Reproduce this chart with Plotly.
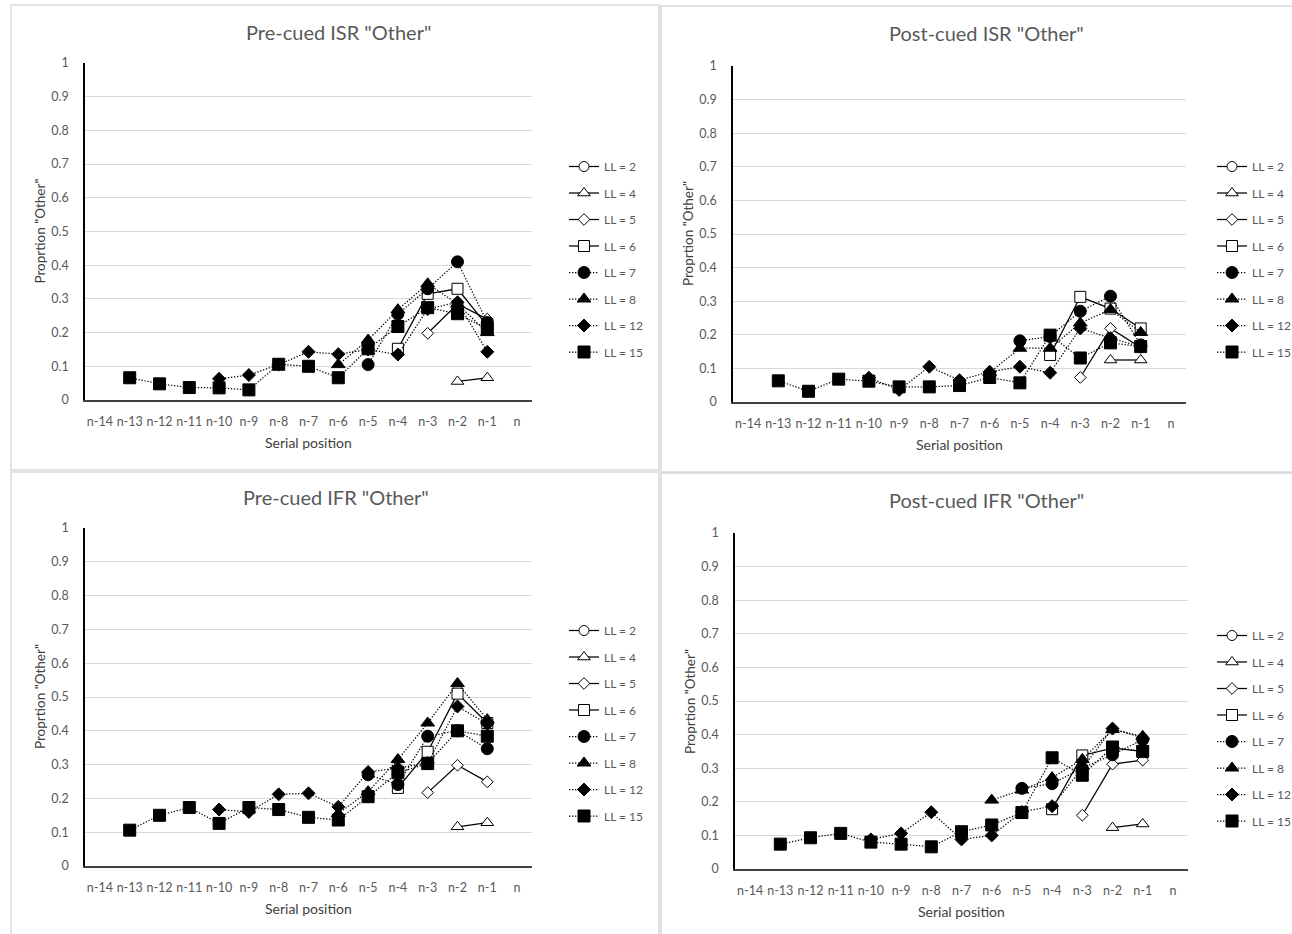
import plotly.graph_objects as go

W, H = 1292, 934

# Serial positions on the category axis
POSITIONS = ["n-14", "n-13", "n-12", "n-11", "n-10", "n-9", "n-8", "n-7",
             "n-6", "n-5", "n-4", "n-3", "n-2", "n-1", "n"]
LIST_LENGTHS = [2, 4, 5, 6, 7, 8, 12, 15]

# Proportion "Other" per list length; each list runs up to serial position n-1
pre_isr_ll2 = []
pre_isr_ll4 = [0.055, 0.066]
pre_isr_ll5 = [0.198, 0.285, 0.240]
pre_isr_ll6 = [0.152, 0.315, 0.330, 0.220]
pre_isr_ll7 = [0.105, 0.255, 0.330, 0.410, 0.230]
pre_isr_ll8 = [0.105, 0.178, 0.268, 0.345, 0.285, 0.200]
pre_isr_ll12 = [0.063, 0.074, 0.105, 0.143, 0.136, 0.150, 0.135, 0.270, 0.290, 0.143]
pre_isr_ll15 = [0.066, 0.048, 0.037, 0.036, 0.030, 0.106, 0.100, 0.066, 0.152,
                0.218, 0.274, 0.256, 0.210]

post_isr_ll2 = []
post_isr_ll4 = [0.125, 0.125]
post_isr_ll5 = [0.073, 0.219, 0.162]
post_isr_ll6 = [0.140, 0.313, 0.278, 0.219]
post_isr_ll7 = [0.182, 0.195, 0.270, 0.315, 0.170]
post_isr_ll8 = [0.088, 0.160, 0.160, 0.235, 0.275, 0.207]
post_isr_ll12 = [0.072, 0.036, 0.105, 0.065, 0.090, 0.105, 0.087, 0.219, 0.190, 0.165]
post_isr_ll15 = [0.063, 0.032, 0.068, 0.062, 0.045, 0.045, 0.049, 0.073, 0.057,
                 0.199, 0.131, 0.176, 0.165]

pre_ifr_ll2 = []
pre_ifr_ll4 = [0.116, 0.128]
pre_ifr_ll5 = [0.217, 0.298, 0.249]
pre_ifr_ll6 = [0.231, 0.338, 0.510, 0.423]
pre_ifr_ll7 = [0.270, 0.241, 0.384, 0.400, 0.347]
pre_ifr_ll8 = [0.155, 0.220, 0.315, 0.423, 0.540, 0.433]
pre_ifr_ll12 = [0.167, 0.160, 0.212, 0.215, 0.175, 0.278, 0.290, 0.305, 0.472, 0.420]
pre_ifr_ll15 = [0.106, 0.150, 0.173, 0.126, 0.173, 0.167, 0.144, 0.136, 0.205,
                0.276, 0.303, 0.400, 0.384]

post_ifr_ll2 = []
post_ifr_ll4 = [0.123, 0.134]
post_ifr_ll5 = [0.160, 0.312, 0.324]
post_ifr_ll6 = [0.178, 0.338, 0.360, 0.350]
post_ifr_ll7 = [0.240, 0.254, 0.300, 0.340, 0.385]
post_ifr_ll8 = [0.205, 0.235, 0.272, 0.326, 0.415, 0.395]
post_ifr_ll12 = [0.088, 0.106, 0.169, 0.088, 0.100, 0.170, 0.187, 0.300, 0.418, 0.390]
post_ifr_ll15 = [0.074, 0.093, 0.106, 0.080, 0.074, 0.066, 0.111, 0.131, 0.168,
                 0.331, 0.279, 0.363, 0.350]

TITLES = ['Pre-cued ISR "Other"', 'Post-cued ISR "Other"',
          'Pre-cued IFR "Other"', 'Post-cued IFR "Other"']
Y_TITLE = 'Proprtion "Other"'
X_TITLE = "Serial position"

PANEL_SERIES = [
    [pre_isr_ll2, pre_isr_ll4, pre_isr_ll5, pre_isr_ll6,
     pre_isr_ll7, pre_isr_ll8, pre_isr_ll12, pre_isr_ll15],
    [post_isr_ll2, post_isr_ll4, post_isr_ll5, post_isr_ll6,
     post_isr_ll7, post_isr_ll8, post_isr_ll12, post_isr_ll15],
    [pre_ifr_ll2, pre_ifr_ll4, pre_ifr_ll5, pre_ifr_ll6,
     pre_ifr_ll7, pre_ifr_ll8, pre_ifr_ll12, pre_ifr_ll15],
    [post_ifr_ll2, post_ifr_ll4, post_ifr_ll5, post_ifr_ll6,
     post_ifr_ll7, post_ifr_ll8, post_ifr_ll12, post_ifr_ll15],
]

# Marker / line style per list length: open markers + solid lines for short
# lists, filled markers + dotted lines for long lists
DOTTED = "1.3px,1.7px"
STYLES = {
    2: dict(symbol="circle", size=10, fill="white", dash="solid"),
    4: dict(symbol="triangle-up", size=11, fill="white", dash="solid"),
    5: dict(symbol="diamond", size=9, fill="white", dash="solid"),
    6: dict(symbol="square", size=11, fill="white", dash="solid"),
    7: dict(symbol="circle", size=12, fill="black", dash=DOTTED),
    8: dict(symbol="triangle-up", size=12, fill="black", dash=DOTTED),
    12: dict(symbol="diamond", size=10, fill="black", dash=DOTTED),
    15: dict(symbol="square", size=12, fill="black", dash=DOTTED),
}

FONT = "Lato"
GRAY = "#595959"


def px_x(v):
    return v / W


def px_y(v):
    return 1 - v / H


# Plot areas in pixels: (left, right, top [y=1], bottom [y=0])
PLOT_BOXES = [
    (85, 532, 63, 400),
    (733, 1186, 66, 402),
    (85, 532, 528, 866),
    (735, 1188, 533, 869),
]
# Chart-area borders in pixels: (left, top, right, bottom)
FRAMES = [
    (11, 5, 659, 470),
    (661, 6, 1300, 472),
    (11, 472, 659, 940),
    (661, 473, 1300, 940),
]
TITLE_POS = [(338, 32), (986, 33), (336, 497), (986, 500)]
LEGEND_POS = [(564, 152), (1212, 152), (564, 616), (1212, 621)]

fig = go.Figure()
layout = dict(
    width=W, height=H,
    margin=dict(l=0, r=0, t=0, b=0, autoexpand=False),
    paper_bgcolor="white", plot_bgcolor="white",
    font=dict(family=FONT, color=GRAY, size=12),
)
annotations = []
shapes = []

for p in range(4):
    sfx = "" if p == 0 else str(p + 1)
    xa, ya = "x" + sfx, "y" + sfx
    leg = "legend" + sfx
    left, right, top, bottom = PLOT_BOXES[p]

    for ll, vals in zip(LIST_LENGTHS, PANEL_SERIES[p]):
        st = STYLES[ll]
        xs = POSITIONS[len(POSITIONS) - 1 - len(vals):len(POSITIONS) - 1]
        if not vals:
            xs, vals = [POSITIONS[-1]], [None]
        fig.add_trace(go.Scatter(
            x=xs, y=vals, name=f"LL = {ll}", mode="lines+markers",
            xaxis=xa, yaxis=ya, legend=leg, legendgroup=f"{p}-{ll}",
            line=dict(color="black", width=1.25, dash=st["dash"]),
            marker=dict(symbol=st["symbol"], size=st["size"], color=st["fill"],
                        line=dict(color="black", width=1)),
            connectgaps=False, hoverinfo="x+y+name",
        ))

    layout["xaxis" + sfx] = dict(
        domain=[px_x(left), px_x(right)], anchor=ya,
        type="category", categoryorder="array", categoryarray=POSITIONS,
        range=[-0.5, len(POSITIONS) - 0.5],
        showgrid=False, zeroline=False, showline=True,
        linecolor="#404040", linewidth=1.5, ticks="",
        tickfont=dict(family=FONT, size=12.5, color=GRAY),
        ticklabelstandoff=9, fixedrange=True, automargin=False,
    )
    layout["yaxis" + sfx] = dict(
        domain=[px_y(bottom), px_y(top)], anchor=xa,
        range=[0, 1], dtick=0.1, tickformat="~g",
        showgrid=True, gridcolor="#d9d9d9", gridwidth=1,
        zeroline=False, showline=True, linecolor="black", linewidth=1.5,
        ticks="", tickfont=dict(family=FONT, size=12.5, color=GRAY),
        ticklabelstandoff=12, fixedrange=True, automargin=False,
    )

    lx, ly = LEGEND_POS[p]
    layout[leg] = dict(
        x=px_x(lx), y=px_y(ly), xanchor="left", yanchor="top",
        xref="paper", yref="paper",
        bgcolor="rgba(0,0,0,0)", borderwidth=0,
        font=dict(family=FONT, size=12, color=GRAY),
        tracegroupgap=7.5, itemclick=False, itemdoubleclick=False,
    )

    tx, ty = TITLE_POS[p]
    annotations.append(dict(
        text=TITLES[p], x=px_x(tx), y=px_y(ty), xref="paper", yref="paper",
        showarrow=False, xanchor="center", yanchor="middle",
        font=dict(family=FONT, size=20, color=GRAY)))
    annotations.append(dict(
        text=X_TITLE, x=px_x((left + right) / 2), y=px_y(bottom + 42),
        xref="paper", yref="paper", showarrow=False,
        xanchor="center", yanchor="middle",
        font=dict(family=FONT, size=14, color="#404040")))
    annotations.append(dict(
        text=Y_TITLE, x=px_x(left - 45), y=px_y((top + bottom) / 2),
        xref="paper", yref="paper", showarrow=False, textangle=-90,
        xanchor="center", yanchor="middle",
        font=dict(family=FONT, size=13.5, color="#404040")))

    fx0, fy0, fx1, fy1 = FRAMES[p]
    shapes.append(dict(
        type="rect", xref="paper", yref="paper",
        x0=px_x(fx0), x1=px_x(fx1), y0=px_y(fy1), y1=px_y(fy0),
        line=dict(color="#d9d9d9", width=1.5), layer="below"))

layout["annotations"] = annotations
layout["shapes"] = shapes
fig.update_layout(**layout)
fig.write_html("out.html", config={"displayModeBar": False})
